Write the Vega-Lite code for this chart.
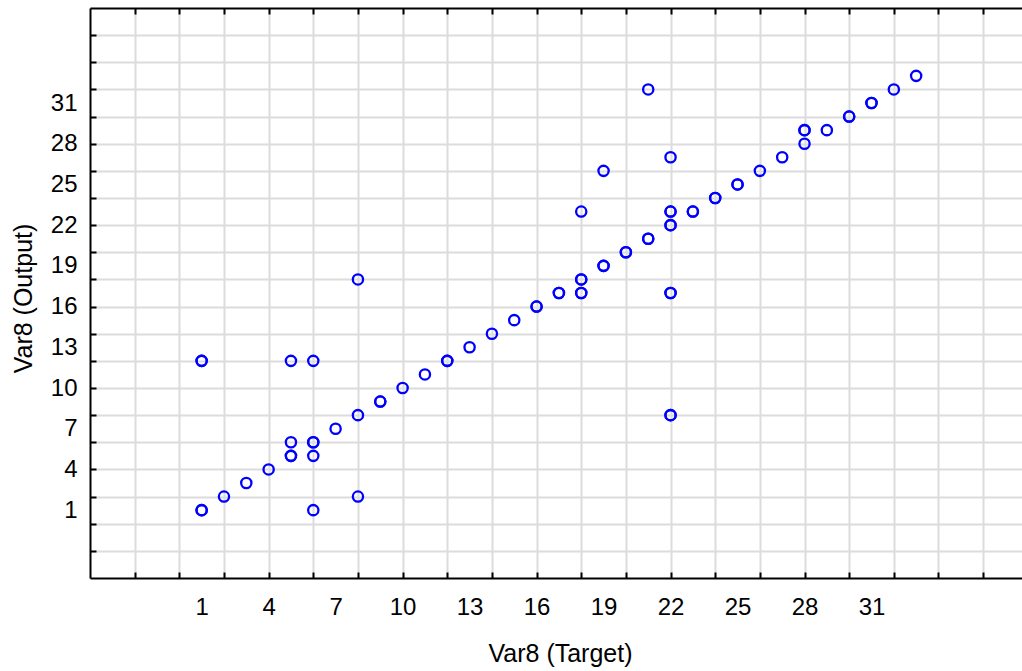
{
  "$schema": "https://vega.github.io/schema/vega-lite/v6.json",
  "width": 932,
  "height": 570,
  "autosize": {"type": "none"},
  "padding": {"left": 90, "top": 8, "right": 0, "bottom": 93},
  "background": "white",
  "config": {
    "view": {"stroke": null},
    "font": "Liberation Sans",
    "axis": {
      "labelFont": "Liberation Sans",
      "titleFont": "Liberation Sans",
      "labelFontSize": 24,
      "titleFontSize": 25,
      "titleFontWeight": "normal",
      "labelColor": "black",
      "titleColor": "black",
      "domainColor": "black",
      "domainWidth": 2,
      "tickColor": "black",
      "tickWidth": 2,
      "gridColor": "#dcdcdc",
      "gridWidth": 2,
      "labelOverlap": false,
      "labelFlush": false
    }
  },
  "data": {
    "values": [
      {"target": 1, "output": 12}, {"target": 1, "output": 12},
      {"target": 1, "output": 1}, {"target": 1, "output": 1},
      {"target": 2, "output": 2},
      {"target": 3, "output": 3},
      {"target": 4, "output": 4},
      {"target": 5, "output": 6},
      {"target": 5, "output": 5}, {"target": 5, "output": 5},
      {"target": 5, "output": 12},
      {"target": 6, "output": 6}, {"target": 6, "output": 6},
      {"target": 6, "output": 5},
      {"target": 6, "output": 1},
      {"target": 6, "output": 12},
      {"target": 7, "output": 7},
      {"target": 8, "output": 8},
      {"target": 8, "output": 2},
      {"target": 8, "output": 18},
      {"target": 9, "output": 9}, {"target": 9, "output": 9},
      {"target": 10, "output": 10},
      {"target": 11, "output": 11},
      {"target": 12, "output": 12}, {"target": 12, "output": 12},
      {"target": 13, "output": 13},
      {"target": 14, "output": 14},
      {"target": 15, "output": 15},
      {"target": 16, "output": 16}, {"target": 16, "output": 16},
      {"target": 17, "output": 17}, {"target": 17, "output": 17},
      {"target": 18, "output": 17}, {"target": 18, "output": 17},
      {"target": 18, "output": 18}, {"target": 18, "output": 18},
      {"target": 18, "output": 23},
      {"target": 19, "output": 19}, {"target": 19, "output": 19},
      {"target": 19, "output": 26},
      {"target": 20, "output": 20}, {"target": 20, "output": 20},
      {"target": 21, "output": 21}, {"target": 21, "output": 21},
      {"target": 21, "output": 32},
      {"target": 22, "output": 27},
      {"target": 22, "output": 23}, {"target": 22, "output": 23},
      {"target": 22, "output": 22}, {"target": 22, "output": 22},
      {"target": 22, "output": 17}, {"target": 22, "output": 17},
      {"target": 22, "output": 8}, {"target": 22, "output": 8},
      {"target": 23, "output": 23}, {"target": 23, "output": 23},
      {"target": 24, "output": 24}, {"target": 24, "output": 24},
      {"target": 25, "output": 25}, {"target": 25, "output": 25},
      {"target": 26, "output": 26},
      {"target": 27, "output": 27},
      {"target": 28, "output": 28},
      {"target": 28, "output": 29}, {"target": 28, "output": 29},
      {"target": 29, "output": 29},
      {"target": 30, "output": 30}, {"target": 30, "output": 30},
      {"target": 31, "output": 31}, {"target": 31, "output": 31},
      {"target": 32, "output": 32},
      {"target": 33, "output": 33}
    ]
  },
  "layer": [
    {
      "mark": {"type": "point", "shape": "circle", "filled": false, "color": "#0000ff", "strokeWidth": 2.3, "size": 105, "opacity": 1},
      "encoding": {
        "x": {
          "field": "target", "type": "quantitative",
          "scale": {"domain": [-4, 37.74], "nice": false, "zero": false},
          "axis": {
            "orient": "bottom",
            "title": "Var8 (Target)",
            "values": [-2, 0, 1, 2, 4, 6, 7, 8, 10, 12, 13, 14, 16, 18, 19, 20, 22, 24, 25, 26, 28, 30, 31, 32, 34, 36],
            "labelExpr": "(datum.value >= 1 && datum.value <= 31 && (datum.value - 1) % 3 == 0) ? datum.label : ''",
            "gridOpacity": {"condition": {"test": "datum.value % 2 == 0", "value": 1}, "value": 0},
            "ticks": false,
            "labelPadding": 17,
            "titleX": 470,
            "titleY": 83,
            "titleBaseline": "alphabetic",
            "titleAnchor": "middle"
          }
        },
        "y": {
          "field": "output", "type": "quantitative",
          "scale": {"domain": [-4, 38], "nice": false, "zero": false},
          "axis": {
            "orient": "left",
            "title": "Var8 (Output)",
            "values": [-2, 0, 1, 2, 4, 6, 7, 8, 10, 12, 13, 14, 16, 18, 19, 20, 22, 24, 25, 26, 28, 30, 31, 32, 34, 36],
            "labelExpr": "(datum.value >= 1 && datum.value <= 31 && (datum.value - 1) % 3 == 0) ? datum.label : ''",
            "gridOpacity": {"condition": {"test": "datum.value % 2 == 0", "value": 1}, "value": 0},
            "ticks": false,
            "labelPadding": 13,
            "titleX": -59,
            "titleY": 290,
            "titleBaseline": "alphabetic",
            "titleAnchor": "middle"
          }
        }
      }
    },
    {
      "mark": {"type": "point", "opacity": 0},
      "encoding": {
        "x": {
          "field": "target", "type": "quantitative",
          "axis": {
            "orient": "top",
            "title": null,
            "labels": false,
            "grid": false,
            "ticks": false
          }
        },
        "y": {
          "field": "output", "type": "quantitative",
          "axis": {
            "orient": "left",
            "title": null,
            "labels": false,
            "grid": false,
            "domain": false,
            "offset": -6,
            "tickSize": 6,
            "values": [-2, 0, 2, 4, 6, 8, 10, 12, 14, 16, 18, 20, 22, 24, 26, 28, 30, 32, 34, 36]
          }
        }
      }
    },
    {
      "mark": {"type": "point", "opacity": 0},
      "encoding": {
        "x": {
          "field": "target", "type": "quantitative",
          "axis": {
            "orient": "top",
            "title": null,
            "labels": false,
            "grid": false,
            "domain": false,
            "offset": -6,
            "tickSize": 6,
            "values": [-2, 0, 2, 4, 6, 8, 10, 12, 14, 16, 18, 20, 22, 24, 26, 28, 30, 32, 34, 36]
          }
        },
        "y": {"field": "output", "type": "quantitative", "axis": null}
      }
    },
    {
      "mark": {"type": "point", "opacity": 0},
      "encoding": {
        "x": {
          "field": "target", "type": "quantitative",
          "axis": {
            "orient": "bottom",
            "title": null,
            "labels": false,
            "grid": false,
            "domain": false,
            "offset": -6,
            "tickSize": 6,
            "values": [-2, 0, 2, 4, 6, 8, 10, 12, 14, 16, 18, 20, 22, 24, 26, 28, 30, 32, 34, 36]
          }
        },
        "y": {"field": "output", "type": "quantitative", "axis": null}
      }
    }
  ],
  "resolve": {"axis": {"x": "independent", "y": "independent"}}
}
